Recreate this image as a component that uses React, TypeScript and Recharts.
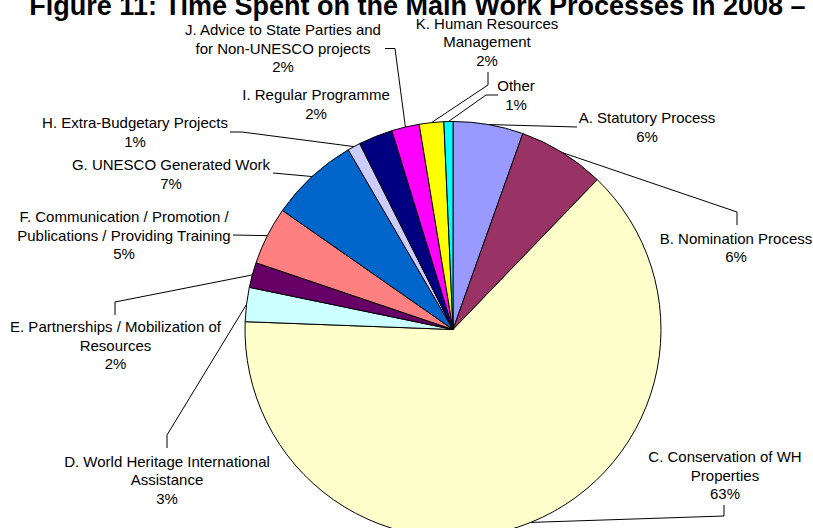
import { PieChart, Pie, Cell } from 'recharts';

const categories = [
  'A. Statutory Process',
  'B. Nomination Process',
  'C. Conservation of WH Properties',
  'D. World Heritage International Assistance',
  'E. Partnerships / Mobilization of Resources',
  'F. Communication / Promotion / Publications / Providing Training',
  'G. UNESCO Generated Work',
  'H. Extra-Budgetary Projects',
  'I. Regular Programme',
  'J. Advice to State Parties and for Non-UNESCO projects',
  'K. Human Resources Management',
  'Other',
];

// share of time
const shares = [5.45, 6.75, 63.4, 2.65, 1.95, 4.5, 6.9, 1.0, 2.65, 2.15, 1.9, 0.7];

// percentages as printed on the chart
const pctLabels = ['6%', '6%', '63%', '3%', '2%', '5%', '7%', '1%', '2%', '2%', '2%', '1%'];

// label text split the way the chart wraps it
const labelLines = [
  ['A. Statutory Process'],
  ['B. Nomination Process'],
  ['C. Conservation of WH', 'Properties'],
  ['D. World Heritage International', 'Assistance'],
  ['E. Partnerships / Mobilization of', 'Resources'],
  ['F. Communication / Promotion /', 'Publications / Providing Training'],
  ['G. UNESCO Generated Work'],
  ['H. Extra-Budgetary Projects'],
  ['I. Regular Programme'],
  ['J. Advice to State Parties and', 'for Non-UNESCO projects'],
  ['K. Human Resources', 'Management'],
  ['Other'],
];

const sliceColors = [
  '#9999FF',
  '#993366',
  '#FFFFCC',
  '#CCFFFF',
  '#660066',
  '#FF8080',
  '#0066CC',
  '#CCCCFF',
  '#000080',
  '#FF00FF',
  '#FFFF00',
  '#00FFFF',
];

// where each label sits and how its leader line bends
const labelSpots: { x: number; y: number; leader: number[][] }[] = [
  { x: 647, y: 118, leader: [[577, 127]] },
  { x: 736, y: 238.5, leader: [[737, 212], [737, 225]] },
  { x: 725, y: 457, leader: [[724, 516], [724, 505]] },
  { x: 167, y: 461.5, leader: [[167, 435], [167, 448]] },
  { x: 115.5, y: 327, leader: [[115, 302], [115, 315]] },
  { x: 124, y: 217, leader: [[233, 235]] },
  { x: 171, y: 165, leader: [[273, 173]] },
  { x: 135, y: 123, leader: [[242, 132], [230, 132]] },
  { x: 316, y: 95, leader: [] },
  { x: 283, y: 30, leader: [[395, 48.5], [385, 48.5]] },
  { x: 487, y: 23.5, leader: [[488, 85], [488, 72]] },
  { x: 516, y: 86, leader: [[486, 95], [498, 95]] },
];

const chartData = categories.map((name, i) => ({ name, value: shares[i] }));

const FONT = '"Liberation Sans", Arial, sans-serif';
const RAD = Math.PI / 180;

function renderLabel(props: any) {
  const { cx, cy, midAngle, outerRadius, index } = props;
  const ax = cx + outerRadius * Math.cos(-midAngle * RAD);
  const ay = cy + outerRadius * Math.sin(-midAngle * RAD);
  const spot = labelSpots[index];
  const lines = [...labelLines[index], pctLabels[index]];
  const pts = [[ax, ay], ...spot.leader].map((p) => p.join(',')).join(' ');

  return (
    <g key={`lbl-${index}`}>
      {spot.leader.length > 0 && (
        <polyline points={pts} fill="none" stroke="#000" strokeWidth={1} />
      )}
      <text textAnchor="middle" fontSize={15} fontFamily={FONT} fill="#000">
        {lines.map((t, i) => (
          <tspan key={i} x={spot.x} y={spot.y + i * 18.5 + 5}>
            {t}
          </tspan>
        ))}
      </text>
    </g>
  );
}

export default function App() {
  return (
    <div
      style={{
        position: 'absolute',
        left: 0,
        top: 0,
        width: 813,
        height: 528,
        background: '#fff',
        overflow: 'hidden',
      }}
    >
      <PieChart width={813} height={528} margin={{ top: 0, right: 0, bottom: 0, left: 0 }}>
        <Pie
          data={chartData}
          dataKey="value"
          nameKey="name"
          cx={453}
          cy={329.5}
          outerRadius={208}
          startAngle={90}
          endAngle={-270}
          stroke="#000"
          strokeWidth={1}
          label={renderLabel}
          labelLine={false}
          isAnimationActive={false}
        >
          {chartData.map((d, i) => (
            <Cell key={d.name} fill={sliceColors[i]} />
          ))}
        </Pie>
      </PieChart>
      <svg
        width={813}
        height={30}
        style={{ position: 'absolute', left: 0, top: 0, pointerEvents: 'none' }}
      >
        <text
          x={417.5}
          y={15}
          textAnchor="middle"
          fontSize={27}
          fontWeight="bold"
          fontFamily={FONT}
          fill="#000"
        >
          Figure 11: Time Spent on the Main Work Processes in 2008 –
        </text>
      </svg>
    </div>
  );
}
